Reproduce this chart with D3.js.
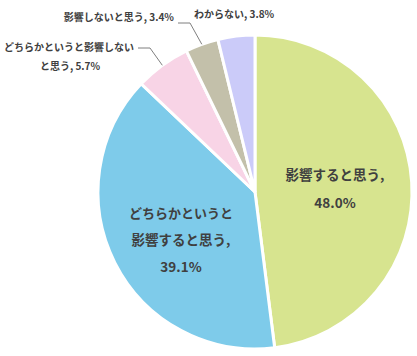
<!DOCTYPE html>
<html><head><meta charset="utf-8">
<script src="https://cdn.jsdelivr.net/npm/d3@7"></script>
<style>body{margin:0;background:#fff}svg{display:block}</style>
</head><body>
<script>
const categories = ["影響すると思う","どちらかというと影響すると思う","どちらかというと影響しないと思う","影響しないと思う","わからない"];
const values = [48.0, 39.1, 5.7, 3.4, 3.8];
const colors = ["#d7e48f","#7ecbea","#f8d4e6","#c3c0aa","#cbcbf9"];

const W=417,H=356,cx=255,cy=192,r=157;
const svg=d3.select("body").append("svg").attr("width",W).attr("height",H);
const g=svg.append("g").attr("transform",`translate(${cx},${cy})`);
const pie=d3.pie().sort(null).value(d=>d);
const arcs=pie(values);
const arc=d3.arc().innerRadius(0).outerRadius(r);
g.selectAll("path").data(arcs).join("path").attr("d",arc)
 .attr("fill",(d,i)=>colors[i]).attr("stroke","#fff").attr("stroke-width",3).attr("stroke-linejoin","miter");

const font="'Noto Sans CJK JP', sans-serif";
const col="#404040";
function txt(x,y,s,size,anchor){
  svg.append("text").attr("x",x).attr("y",y).attr("text-anchor",anchor||"middle")
   .attr("font-family",font).attr("font-size",size).attr("font-weight","bold").attr("fill",col).text(s);
}
const fmt=v=>v.toFixed(1)+"%";
txt(335,180,categories[0]+",",13.5);
txt(335,208,fmt(values[0]),13.5);
txt(181,218,"どちらかというと",13);
txt(181,245,"影響すると思う,",13.5);
txt(181,272,fmt(values[1]),13.5);
txt(134,51,"どちらかというと影響しない",10,"end");
txt(70,70,"と思う, "+fmt(values[2]),10);
txt(174,21,categories[3]+", "+fmt(values[3]),10,"end");
txt(194,18,categories[4]+", "+fmt(values[4]),10,"start");
const ang=arcs.map(d=>(d.startAngle+d.endAngle)/2);
function pt(a,rr){return [cx+Math.sin(a)*rr, cy-Math.cos(a)*rr];}
function leader(i,x0,y0,x1){
  const p=pt(ang[i],r);
  svg.append("polyline").attr("points",`${x0},${y0} ${x1},${y0} ${p[0]},${p[1]}`)
   .attr("fill","none").attr("stroke","#7f7f7f").attr("stroke-width",1);
}
leader(2,138,48,150);
leader(3,178,23,190);
</script>
</body></html>
